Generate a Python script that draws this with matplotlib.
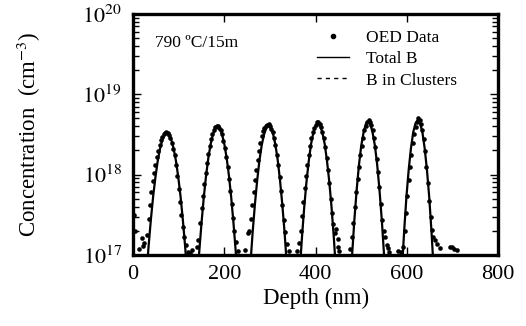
import numpy as np
import matplotlib
matplotlib.use("Agg")
import matplotlib.pyplot as plt
from matplotlib.lines import Line2D
from matplotlib.ticker import LogLocator, FixedLocator, NullFormatter

plt.rcParams["font.family"] = ["Liberation Serif", "DejaVu Serif"]
plt.rcParams["mathtext.fontset"] = "stix"

# Total B fit, one list per implant peak (depth in nm, log10 of concentration in cm^-3)
fit_depth = [
    [29, 34, 39, 44, 49, 54, 59, 64, 69, 74, 79, 84, 89, 94, 99, 104, 109, 114, 119],
    [140, 145, 150, 155, 160, 165, 170, 175, 180, 185, 190, 195, 200, 205, 210, 215, 220, 225, 230],
    [252, 257, 262, 267, 272, 277, 282, 287, 292, 297, 302, 307, 312, 317, 322, 327, 332, 337, 342],
    [360, 365, 370, 375, 380, 385, 390, 395, 400, 405, 410, 415, 420, 425, 430, 435, 440, 445, 450],
    [475, 480, 485, 490, 495, 500, 505, 510, 515, 520, 525, 530, 535, 540, 545, 550, 555],
    [584, 589, 594, 599, 604, 609, 614, 619, 624, 629, 634, 639, 644, 649, 654, 659, 664],
]
fit_logc = [
    [16.73, 17.11, 17.44, 17.73, 17.97, 18.17, 18.32, 18.43, 18.50, 18.52,
     18.50, 18.43, 18.32, 18.17, 17.97, 17.73, 17.44, 17.11, 16.73],
    [16.62, 17.04, 17.40, 17.72, 17.99, 18.21, 18.38, 18.50, 18.58, 18.60,
     18.58, 18.50, 18.38, 18.21, 17.99, 17.72, 17.40, 17.04, 16.62],
    [16.41, 16.87, 17.28, 17.63, 17.93, 18.18, 18.37, 18.50, 18.58, 18.61,
     18.58, 18.50, 18.37, 18.18, 17.93, 17.63, 17.28, 16.87, 16.41],
    [16.28, 16.77, 17.21, 17.59, 17.91, 18.17, 18.38, 18.52, 18.61, 18.64,
     18.61, 18.52, 18.38, 18.17, 17.91, 17.59, 17.21, 16.77, 16.28],
    [16.49, 17.00, 17.44, 17.81, 18.12, 18.36, 18.52, 18.63, 18.66,
     18.63, 18.52, 18.36, 18.12, 17.81, 17.44, 17.00, 16.49],
    [16.22, 16.79, 17.29, 17.72, 18.06, 18.33, 18.53, 18.64, 18.68,
     18.64, 18.53, 18.33, 18.06, 17.72, 17.29, 16.79, 16.22],
]

# OED data points (depth nm, log10 conc)
oed_depth = [
    3, 4, 12, 20, 21, 24,
    30, 34, 37, 40, 43, 46, 49, 52, 55, 58, 61, 64, 67, 70, 73, 76, 79, 82, 85,
    88, 91, 94, 97, 100, 103, 106, 109, 112, 116, 120, 125, 129,
    140, 143, 147, 150, 153, 156, 159, 162, 165, 168, 171, 174, 177, 180, 183, 186,
    189, 192, 195, 198, 201, 204, 207, 210, 213, 216, 219, 222, 226, 230,
    246, 251, 254, 258, 261, 264, 267, 270, 273, 276, 279, 282, 285, 288, 291, 294,
    297, 300, 303, 306, 309, 312, 315, 318, 321, 324, 327, 330, 333, 337, 341,
    360, 364, 367, 370, 373, 376, 379, 382, 385, 388, 391, 394, 397, 400, 403, 406,
    409, 412, 415, 418, 421, 424, 427, 430, 433, 436, 439, 442, 445, 448, 450, 452,
    476, 480, 483, 486, 489, 492, 495, 498, 501, 504, 507, 510, 513, 516, 519, 522,
    525, 528, 531, 534, 537, 540, 543, 546, 549, 552, 556, 559, 560, 581,
    588, 592, 595, 598, 601, 604, 607, 610, 613, 616, 619, 622, 625, 628, 631, 634,
    637, 640, 643, 646, 649, 652, 655, 658, 662, 667, 673, 695, 700, 704, 709,
]
oed_logc = [
    17.50, 17.30, 17.08, 17.21, 17.11, 17.15,
    17.25, 17.45, 17.62, 17.78, 17.92, 18.02, 18.12, 18.22, 18.30, 18.37, 18.43, 18.47,
    18.50, 18.52, 18.53, 18.52, 18.49, 18.45, 18.40,
    18.32, 18.24, 18.12, 17.98, 17.82, 17.66, 17.50, 17.35, 17.22, 17.12, 17.04, 17.02, 17.06,
    17.10, 17.18, 17.40, 17.58, 17.74, 17.88, 18.02, 18.14, 18.26, 18.36, 18.44, 18.51,
    18.56, 18.59, 18.61, 18.60,
    18.58, 18.55, 18.50, 18.42, 18.33, 18.22, 18.10, 17.95, 17.80, 17.63, 17.46, 17.30,
    17.16, 17.05,
    17.06, 17.27, 17.30, 17.45, 17.62, 17.78, 17.93, 18.06, 18.18, 18.30, 18.40, 18.48,
    18.54, 18.58, 18.60, 18.62,
    18.63, 18.60, 18.57, 18.53, 18.46, 18.37, 18.25, 18.12, 17.97, 17.80, 17.62, 17.44,
    17.28, 17.14, 17.05,
    17.05, 17.15, 17.30, 17.48, 17.66, 17.83, 17.98, 18.12, 18.25, 18.36, 18.46, 18.53,
    18.58, 18.62, 18.65, 18.66,
    18.63, 18.59, 18.53, 18.45, 18.34, 18.21, 18.06, 17.89, 17.70, 17.52, 17.38, 17.27,
    17.32, 17.20, 17.10, 17.05,
    17.08, 17.22, 17.40, 17.60, 17.78, 17.95, 18.10, 18.24, 18.36, 18.46, 18.55, 18.61,
    18.66, 18.68, 18.66, 18.62,
    18.55, 18.46, 18.35, 18.20, 18.03, 17.84, 17.64, 17.44, 17.30, 17.22, 17.12, 17.09,
    17.04, 17.05,
    17.04, 17.10, 17.30, 17.52, 17.74, 17.93, 18.10, 18.25, 18.39, 18.50, 18.59, 18.66,
    18.70, 18.68, 18.63, 18.55,
    18.44, 18.29, 18.10, 17.89, 17.67, 17.47, 17.31, 17.22, 17.18, 17.14, 17.09, 17.10,
    17.10, 17.08, 17.06,
]

fig = plt.figure(figsize=(5.26, 3.26), dpi=100)
ax = fig.add_axes([0.253, 0.218, 0.694, 0.739])

ax.plot(oed_depth, 10 ** np.array(oed_logc), "o", color="black", markersize=3.3,
        markeredgewidth=0)
for d, c in zip(fit_depth, fit_logc):
    ax.plot(d, 10 ** np.array(c), "-", color="black", linewidth=1.6)

ax.set_yscale("log")
ax.set_xlim(0, 800)
ax.set_ylim(1e17, 1e20)
ax.set_xticks([0, 200, 400, 600, 800])
ax.yaxis.set_major_locator(FixedLocator([1e17, 1e18, 1e19, 1e20]))
ax.yaxis.set_major_formatter(plt.FuncFormatter(lambda v, p: r"$10^{%d}$" % round(np.log10(v))))
ax.yaxis.set_minor_locator(LogLocator(base=10, subs=np.arange(2, 10)))
ax.yaxis.set_minor_formatter(NullFormatter())

ax.tick_params(which="both", direction="in", top=True, right=True, labelsize=16, width=1)
ax.tick_params(which="major", length=6)
ax.tick_params(which="minor", length=4)
ax.tick_params(axis="x", pad=7)
ax.tick_params(axis="y", pad=8)
for s in ax.spines.values():
    s.set_linewidth(2.4)

ax.set_xlabel("Depth (nm)", fontsize=16.5, labelpad=3)
ax.set_ylabel("Concentration  (cm$^{-3}$)", fontsize=16.5, labelpad=28)

ax.text(0.06, 0.865, "790 ºC/15m", transform=ax.transAxes, fontsize=12.5)

handles = [
    Line2D([], [], marker="o", linestyle="none", color="black", markersize=3),
    Line2D([], [], linestyle="-", color="black", linewidth=1),
    Line2D([], [], linestyle=(0, (3, 3)), color="black", linewidth=1),
]
ax.legend(handles, ["OED Data", "Total B", "B in Clusters"], loc="upper left",
          bbox_to_anchor=(0.505, 0.935), frameon=False, fontsize=12.5,
          handlelength=1.8, handletextpad=1.0, labelspacing=0.3,
          borderpad=0, borderaxespad=0)

fig.savefig("out.png", dpi=100)
